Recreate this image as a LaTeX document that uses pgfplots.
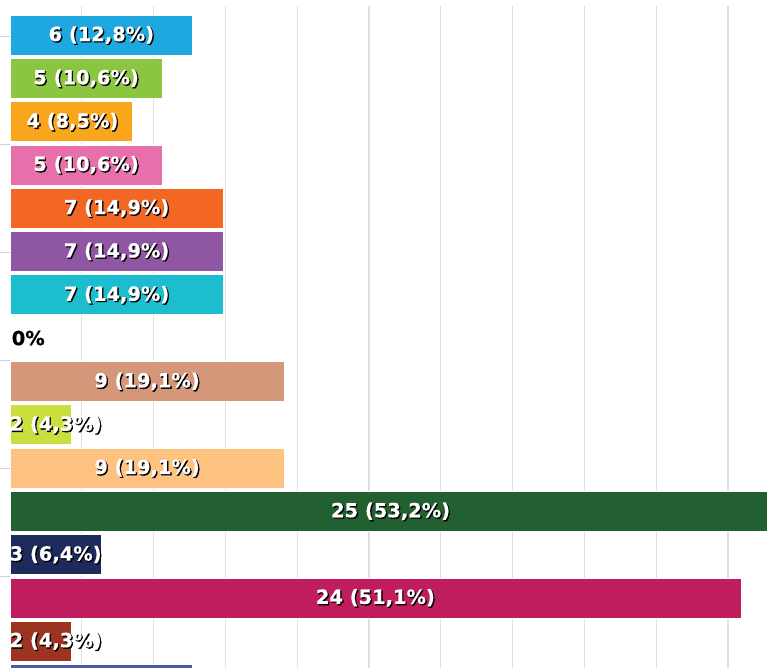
\documentclass[border=0pt]{standalone}
\usepackage{pgfplots}
\usepackage{pgfplotstable}
\pgfplotsset{compat=1.18}
\usepackage{fontspec}
\setmainfont{DejaVu Sans}
\newfontfamily\shfont{DejaVu Sans Bold}[FakeBold=2.4]
\newfontfamily\fgfont{DejaVu Sans Bold}[FakeBold=0.6]
\definecolor{c1}{HTML}{1FA8E0}
\definecolor{c2}{HTML}{8BC640}
\definecolor{c3}{HTML}{F9A61D}
\definecolor{c4}{HTML}{E66FAC}
\definecolor{c5}{HTML}{F26723}
\definecolor{c6}{HTML}{8E56A3}
\definecolor{c7}{HTML}{1BBDCF}
\definecolor{c9}{HTML}{D4977A}
\definecolor{c10}{HTML}{CADE3E}
\definecolor{c11}{HTML}{FDC180}
\definecolor{c12}{HTML}{236031}
\definecolor{c13}{HTML}{1E2A5C}
\definecolor{c14}{HTML}{C01D5F}
\definecolor{c15}{HTML}{9C3421}
\definecolor{c16}{HTML}{4A59A6}
\definecolor{gridc}{HTML}{E0E0E0}
\definecolor{tickc}{HTML}{C9D1EA}
\pgfplotstableread[col sep=semicolon,row sep=\\]{
lx;y;label\\
3;1;{6 (12,8\%)}\\
2.5;2;{5 (10,6\%)}\\
2.05;3;{4 (8,5\%)}\\
2.5;4;{5 (10,6\%)}\\
3.5;5;{7 (14,9\%)}\\
3.5;6;{7 (14,9\%)}\\
3.5;7;{7 (14,9\%)}\\
4.5;9;{9 (19,1\%)}\\
1.5;10;{2 (4,3\%)}\\
4.5;11;{9 (19,1\%)}\\
12.5;12;{25 (53,2\%)}\\
1.5;13;{3 (6,4\%)}\\
12;14;{24 (51,1\%)}\\
1.5;15;{2 (4,3\%)}\\
}\labels
\pgfplotsset{mybar/.style={xbar, bar width=0.924, bar shift=0pt, draw=white, line width=0.6bp, fill=#1}}
\newcommand{\lblsize}{\fontsize{19.5}{21}\selectfont}
\begin{document}
\begin{tikzpicture}
\begin{axis}[
  scale only axis,
  width=757bp, height=662bp,
  xmin=0, xmax=24.86,
  ymin=0.33, ymax=15.62,
  y dir=reverse,
  axis line style={draw=none},
  xtick={2.358,4.716,7.074,9.432,11.79,14.148,16.506,18.864,21.222,23.58},
  xticklabels={},
  xmajorgrids,
  major x grid style={gridc, line width=1.2bp},
  xtick style={draw=none},
  ytick={1.04,3.53,6.02,8.52,11.01,13.5},
  yticklabels={},
  ytick pos=left,
  tick align=outside,
  major tick length=10bp,
  ytick style={tickc, line width=1bp},
  clip=true,
]
\addplot[mybar=c1] coordinates {(6,1)};
\addplot[mybar=c2] coordinates {(5,2)};
\addplot[mybar=c3] coordinates {(4,3)};
\addplot[mybar=c4] coordinates {(5,4)};
\addplot[mybar=c5] coordinates {(7,5)};
\addplot[mybar=c6] coordinates {(7,6)};
\addplot[mybar=c7] coordinates {(7,7)};
\addplot[mybar=c9] coordinates {(9,9)};
\addplot[mybar=c10] coordinates {(2,10)};
\addplot[mybar=c11] coordinates {(9,11)};
\addplot[mybar=c12] coordinates {(25,12)};
\addplot[mybar=c13] coordinates {(3,13)};
\addplot[mybar=c14] coordinates {(24,14)};
\addplot[mybar=c15] coordinates {(2,15)};
\addplot[mybar=c16] coordinates {(6,16)};
% label shadows
\addplot[draw=none, mark=none, nodes near coords, point meta=explicit symbolic,
  nodes near coords align={center},
  every node near coord/.style={anchor=center, text=black, font=\shfont\lblsize, xshift=1.2bp, yshift=-1.2bp, inner sep=0pt}]
  table[x=lx, y=y, meta=label] {\labels};
% labels
\addplot[draw=none, mark=none, nodes near coords, point meta=explicit symbolic,
  nodes near coords align={center},
  every node near coord/.style={anchor=center, text=white, font=\fgfont\lblsize, inner sep=0pt}]
  table[x=lx, y=y, meta=label] {\labels};
\addplot[draw=none, mark=none, nodes near coords={0\%},
  nodes near coords align={center},
  every node near coord/.style={anchor=center, text=black, font=\fgfont\lblsize, inner sep=0pt}]
  coordinates {(0.6,8)};
\end{axis}
\pgfresetboundingbox
\useasboundingbox (-10bp,0) rectangle (757bp,668bp);
\end{tikzpicture}
\end{document}
